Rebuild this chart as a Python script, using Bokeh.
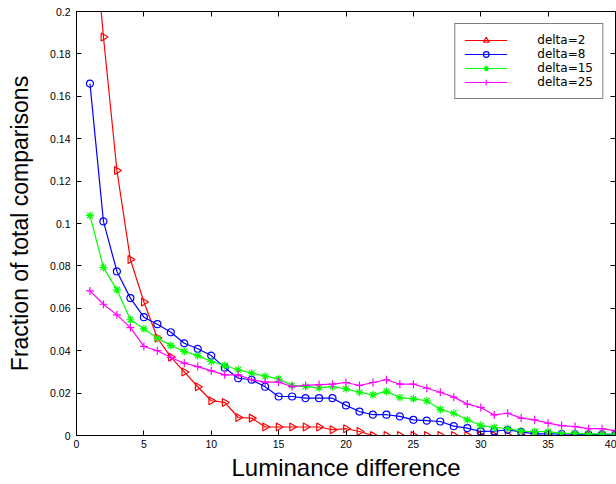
import numpy as np
from bokeh.plotting import figure
from bokeh.models import LinearAxis, FixedTicker, Range1d
from bokeh.embed import file_html
from bokeh.resources import INLINE

x = list(range(1, 41))

delta2 = [0.26, 0.188, 0.125, 0.083, 0.063, 0.046, 0.037, 0.030, 0.023, 0.0164,
          0.0156, 0.0085, 0.0082, 0.0040, 0.0040, 0.0040, 0.0040, 0.0040, 0.0027, 0.0032,
          0.0019, 0.0, 0.0, 0.0, 0.0, 0.0, 0.0, 0.0, 0.0, 0.0,
          0.0, 0.0, 0.0, 0.0, 0.0, 0.0, 0.0, 0.0, 0.0, 0.0]
delta8 = [0.166, 0.101, 0.0774, 0.0648, 0.0558, 0.0525, 0.0487, 0.0435, 0.0409, 0.0377,
          0.032, 0.027, 0.0263, 0.023, 0.0184, 0.0184, 0.0176, 0.0176, 0.0176, 0.0142,
          0.0113, 0.0098, 0.0098, 0.009, 0.0074, 0.007, 0.0066, 0.0044, 0.0035, 0.0019,
          0.002, 0.0027, 0.0017, 0.0008, 0.0008, 0.0007, 0.0006, 0.0005, 0.0005, 0.0004]
delta15 = [0.1038, 0.0792, 0.0687, 0.0546, 0.0503, 0.0459, 0.0425, 0.0396, 0.0377, 0.0349,
           0.033, 0.031, 0.0294, 0.0280, 0.0267, 0.0236, 0.0231, 0.0225, 0.0231, 0.022,
           0.0204, 0.0192, 0.0208, 0.0179, 0.0173, 0.0164, 0.0123, 0.0105, 0.0074, 0.0047,
           0.0038, 0.0033, 0.0021, 0.0018, 0.0018, 0.0010, 0.0010, 0.0008, 0.0008, 0.0006]
delta25 = [0.0682, 0.0619, 0.0569, 0.0509, 0.042, 0.040, 0.0368, 0.0341, 0.0325, 0.0305,
           0.0286, 0.0286, 0.0263, 0.0252, 0.0252, 0.0231, 0.0236, 0.0240, 0.0242, 0.025,
           0.0236, 0.025, 0.0263, 0.0242, 0.0242, 0.0223, 0.0204, 0.0181, 0.0148, 0.0132,
           0.0097, 0.0105, 0.0082, 0.0074, 0.0058, 0.0047, 0.0042, 0.0032, 0.0032, 0.0022]

labels = ["delta=2", "delta=8", "delta=15", "delta=25"]
colors = ["#ff0000", "#0000ff", "#00ff00", "#ff00ff"]
markers = ["triangle", "circle", "asterisk", "cross"]
angles = [-np.pi / 2, 0, 0, 0]
sizes = [8, 7, 8, 8]

x_ticks = [0, 5, 10, 15, 20, 25, 30, 35, 40]
y_ticks = [0, 0.02, 0.04, 0.06, 0.08, 0.1, 0.12, 0.14, 0.16, 0.18, 0.2]
y_tick_labels = ["0", "0.02", "0.04", "0.06", "0.08", "0.1", "0.12", "0.14", "0.16", "0.18", "0.2"]

p = figure(width=616, height=484, output_backend="svg", toolbar_location=None,
           x_range=Range1d(0, 40), y_range=Range1d(0, 0.2),
           min_border_left=76, min_border_right=1, min_border_top=11, min_border_bottom=49)
p.background_fill_color = "white"
p.border_fill_color = "white"
p.grid.visible = False
p.outline_line_color = "black"
p.outline_line_width = 1

FONT = "Liberation Sans"

for ax, ticks in ((p.xaxis[0], x_ticks), (p.yaxis[0], y_ticks)):
    ax.ticker = FixedTicker(ticks=ticks)
    ax.major_tick_in = 5
    ax.major_tick_out = 0
    ax.minor_tick_line_color = None
    ax.axis_line_color = "black"
    ax.major_label_text_font = FONT
    ax.major_label_text_font_size = "10.5px"
    ax.major_label_text_color = "black"
    ax.axis_label_text_font = FONT
    ax.axis_label_text_font_style = "normal"
    ax.axis_label_text_color = "black"

p.yaxis[0].major_label_overrides = {t: l for t, l in zip(y_ticks, y_tick_labels)}
p.xaxis[0].axis_label = "Luminance difference"
p.yaxis[0].axis_label = "Fraction of total comparisons"
p.xaxis[0].axis_label_text_font_size = "24px"
p.yaxis[0].axis_label_text_font_size = "23px"
p.xaxis[0].major_label_standoff = 4
p.yaxis[0].major_label_standoff = 6
p.xaxis[0].axis_label_standoff = 3
p.yaxis[0].axis_label_standoff = 14

for loc, ticks in (("above", x_ticks), ("right", y_ticks)):
    ax = LinearAxis(ticker=FixedTicker(ticks=ticks), major_tick_in=5, major_tick_out=0,
                    minor_tick_line_color=None, major_label_overrides={t: "" for t in ticks},
                    major_label_standoff=0, axis_line_color="black")
    p.add_layout(ax, loc)

for ys, lab, c, m, a, s in zip([delta2, delta8, delta15, delta25], labels, colors, markers, angles, sizes):
    p.line(x, ys, line_color=c, line_width=1.2, legend_label=lab)
    p.scatter(x, ys, marker=m, angle=a, size=s, line_color=c, fill_color=None,
              line_width=1.2, legend_label=lab)

leg = p.legend[0]
leg.location = "top_right"
leg.margin = 12
leg.border_line_color = "black"
leg.border_line_width = 1
leg.background_fill_color = "white"
leg.background_fill_alpha = 1
leg.label_text_font = "DejaVu Sans"
leg.label_text_font_size = "12px"
leg.label_text_color = "black"
leg.glyph_width = 43
leg.glyph_height = 14
leg.label_height = 14
leg.spacing = 0
leg.padding = 9
leg.label_standoff = 30

open("out.html", "w").write(file_html(p, INLINE))
